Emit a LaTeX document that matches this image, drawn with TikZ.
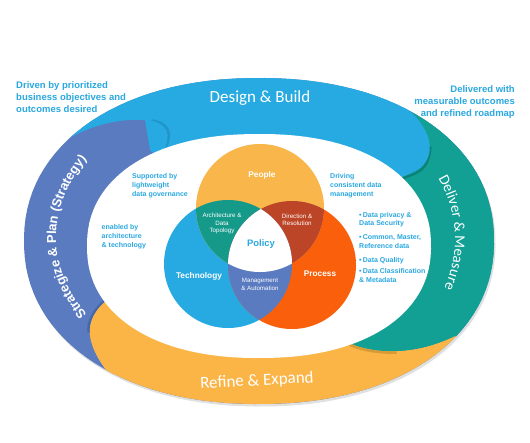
\documentclass[tikz,border=0pt]{standalone}
\usepackage{fontspec}
\setmainfont{Liberation Sans}
\newfontfamily\bandfont{Carlito}
\usetikzlibrary{decorations.text}

\definecolor{sky}{HTML}{27AAE1}
\definecolor{skydark}{HTML}{1F95CB}
\definecolor{tealband}{HTML}{12A095}
\definecolor{tealdark}{HTML}{0C8378}
\definecolor{goldband}{HTML}{FBB547}
\definecolor{golddark}{HTML}{D79A34}
\definecolor{slateband}{HTML}{5A7BC0}
\definecolor{slatedark}{HTML}{4767A9}
\definecolor{sunflower}{HTML}{F9B64B}
\definecolor{flame}{HTML}{FA5F0C}
\definecolor{rust}{HTML}{BC4427}
\definecolor{venngreen}{HTML}{159A8A}
\definecolor{notetext}{HTML}{2AA8E0}

\tikzstyle{note}=[text=notetext, font=\bfseries\fontsize{7}{9}\selectfont, align=left, anchor=base west, inner sep=0pt]
\tikzstyle{bignote}=[note, font=\bfseries\fontsize{9.5}{12}\selectfont]
\tikzstyle{bullet}=[note, font=\bfseries\fontsize{7}{8.7}\selectfont]
\tikzstyle{circ}=[text=white, font=\bfseries\fontsize{8.3}{10}\selectfont, inner sep=0pt]
\tikzstyle{lens}=[text=white, font=\fontsize{6.2}{7.4}\selectfont, align=center, inner sep=0pt]
\tikzstyle{band}=[text=white, font=\bandfont\fontsize{17}{17}\selectfont, inner sep=0pt]
\tikzstyle{rim}=[line width=2.5pt]

\newcommand{\outerpath}{plot[domain=1:361, samples=121, variable=\t] ({259+235*sign(cos(\t))*pow(abs(cos(\t)),0.93)}, {241+163*sign(sin(\t))*pow(abs(sin(\t)),0.93)}) -- cycle}
\newcommand{\innerpath}{plot[domain=1:361, samples=121, variable=\t] ({259+172*sign(cos(\t))*pow(abs(cos(\t)),0.9)}, {246+112*sign(sin(\t))*pow(abs(sin(\t)),0.9)}) -- cycle}

\begin{document}
\begin{tikzpicture}[x=1pt, y=-1pt]
				\useasboundingbox (0,0) rectangle (530,442);
				\fill[white] (0,0) rectangle (530,442);
				
				%The ring
				\fill[black!12, shift={(1.5,2.5)}] \outerpath;
				\fill[slateband] \outerpath;
				\begin{scope}
					\clip \outerpath;
					\fill[sky] (259,245) -- (160,160) .. controls (175,132) and (165,121) .. (145,120) .. controls (110,118) and (75,130) .. (45,155) -- (-60,155) -- (-60,-60) -- (600,-60) -- (380,70) -- (395,100) .. controls (428,120) and (440,152) .. (420,168) .. controls (410,176) and (395,176) .. (385,190) -- cycle;
					\fill[tealband] (259,245) -- (385,190) .. controls (395,176) and (410,176) .. (420,168) .. controls (440,152) and (428,120) .. (395,100) -- (380,70) -- (600,-60) -- (600,520) -- (485,360) -- (455,336) .. controls (438,344) and (420,350) .. (397,351) .. controls (370,352) and (345,345) .. (330,330) -- cycle;
					\fill[goldband] (259,245) -- (330,330) .. controls (345,345) and (370,352) .. (397,351) .. controls (420,350) and (438,344) .. (455,336) -- (485,360) -- (600,520) -- (-60,520) -- (100,400) -- (112,378) .. controls (100,362) and (92,350) .. (90,335) .. controls (88,318) and (100,300) .. (125,290) -- cycle;
					%shadows under the rounded ends
					\draw[rim, skydark, shift={(1.5,-0.5)}] (150,121) .. controls (166,123) and (173,133) .. (162,152);
					\draw[rim, tealdark, shift={(1.5,1.5)}] (429,145) .. controls (428,158) and (424,165) .. (420,168) .. controls (410,176) and (395,176) .. (387,186);
					\draw[rim, golddark, shift={(-0.5,1.5)}] (334,334) .. controls (348,345) and (370,352) .. (397,351);
					\draw[rim, slatedark, shift={(-1.5,-0.5)}] (120,293) .. controls (100,302) and (89,318) .. (90,333);
					%redraw the ends over their shadows
					\fill[sky] (259,245) -- (160,160) .. controls (175,132) and (165,121) .. (145,120) -- (150,150) -- cycle;
					\fill[sky] (380,70) -- (395,100) .. controls (428,120) and (440,152) .. (420,168) .. controls (410,176) and (395,176) .. (385,190) -- (300,150) -- cycle;
					\fill[tealband] (259,245) -- (455,336) .. controls (438,344) and (420,350) .. (397,351) .. controls (370,352) and (345,345) .. (330,330) -- cycle;
					\fill[goldband] (259,245) -- (112,378) .. controls (100,362) and (92,350) .. (90,335) .. controls (88,318) and (100,300) .. (125,290) -- cycle;
				\end{scope}
				\fill[white] \innerpath;
				
				%The ring labels
				\draw (260,98) node[band] (design) {Design \& Build};
				\draw (257,381) node[band, rotate=3] (refine) {Refine \& Expand};
				\path[decorate, decoration={text along path, text align=center, text={|\bfseries\fontsize{13}{13}\selectfont\color{white}|Strategize {\&} Plan (Strategy)}}] plot[domain=115:245, samples=40, smooth, variable=\t] ({259+203*cos(\t)}, {237+146*sin(\t)});
				\path[decorate, decoration={text along path, text align=center, text={|\bandfont\fontsize{15}{15}\selectfont\color{white}|Deliver {\&} Measure}}] plot[domain=-62:58, samples=40, smooth, variable=\t] ({259+196*cos(\t)}, {239+150*sin(\t)});
				
				%The Venn diagram
				\coordinate (cpeople) at (260,208);
				\coordinate (ctech) at (228,264);
				\coordinate (cprocess) at (292,265);
				\fill[sky] (ctech) circle[radius=64pt];
				\fill[flame] (cprocess) circle[radius=64pt];
				\fill[sunflower] (cpeople) circle[radius=64pt];
				\begin{scope}
					\clip (cpeople) circle[radius=64pt];
					\fill[venngreen] (ctech) circle[radius=64pt];
					\fill[rust] (cprocess) circle[radius=64pt];
				\end{scope}
				\begin{scope}
					\clip (ctech) circle[radius=64pt];
					\fill[slateband] (cprocess) circle[radius=64pt];
					\clip (cpeople) circle[radius=64pt];
					\fill[white] (cprocess) circle[radius=64pt];
				\end{scope}
				
				\draw (262,175) node[circ] (people) {People};
				\draw (199,276) node[circ] (tech) {Technology};
				\draw (320,274) node[circ] (process) {Process};
				\draw (261,244) node[circ, text=notetext, font=\bfseries\fontsize{9.4}{11}\selectfont] (policy) {Policy};
				\draw (222,223.5) node[lens] (arch) {Architecture \&\\Data\\Topology};
				\draw (297,220) node[lens] (direction) {Direction \&\\Resolution};
				\draw (260,284) node[lens, font=\fontsize{6.2}{8}\selectfont] (mgmt) {Management\\\& Automation};
				
				%The notes (base anchor sits on the last line)
				\draw (16,112) node[bignote] (driven) {Driven by prioritized\\business objectives and\\outcomes desired};
				\draw (515,116) node[bignote, anchor=base east, align=right] (delivered) {Delivered with\\measurable outcomes\\and refined roadmap};
				\draw (132,196.5) node[note] (supported) {Supported by\\lightweight\\data governance};
				\draw (101.5,247.5) node[note] (enabled) {enabled by\\architecture\\\& technology};
				\draw (330,196) node[note, font=\bfseries\fontsize{7}{8.7}\selectfont] (driving) {Driving\\consistent data\\management};
				\draw (359,225.7) node[bullet] (privacy) {\textbullet\,Data privacy \&\\Data Security};
				\draw (359,248.2) node[bullet] (master) {\textbullet\,Common, Master,\\Reference data};
				\draw (359,262.5) node[bullet] (quality) {\textbullet\,Data Quality};
				\draw (359,282.2) node[bullet] (classif) {\textbullet\,Data Classification\\\& Metadata};
			\end{tikzpicture}
\end{document}
